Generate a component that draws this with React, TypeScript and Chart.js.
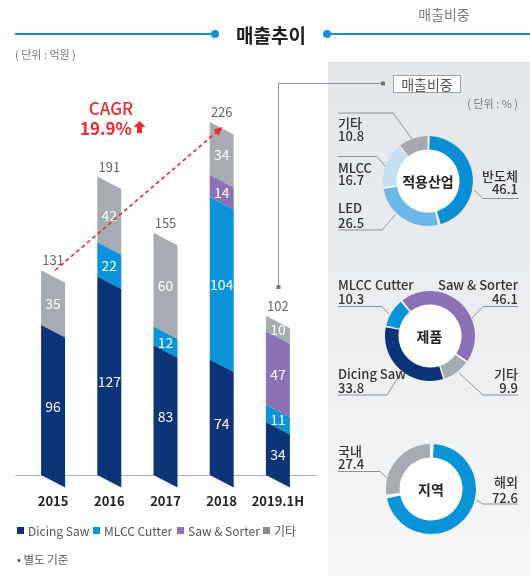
import React, { useEffect, useRef } from "react";
import { Chart, registerables } from "chart.js";

Chart.register(...registerables);

const FONT = "'Noto Sans CJK KR', 'Noto Sans', sans-serif";

// ---------- data ----------
const years = ["2015", "2016", "2017", "2018", "2019.1H"];
const seriesNames = ["Dicing Saw", "MLCC Cutter", "Saw & Sorter", "기타"];
const dicingSaw = [96, 127, 83, 74, 34];
const mlccCutter = [null, 22, 12, 104, 11];
const sawSorter = [null, null, null, 14, 47];
const etc = [35, 42, 60, 34, 10];
const totals = [131, 191, 155, 226, 102];
const cagrLabel = "CAGR";
const cagrValue = "19.9%";

const industryLabels = ["반도체", "LED", "MLCC", "기타"];
const industryValues = [46.1, 26.5, 16.7, 10.8];
const productLabels = ["Saw & Sorter", "기타", "Dicing Saw", "MLCC Cutter"];
const productValues = [46.1, 9.9, 33.8, 10.3];
const regionLabels = ["해외", "국내"];
const regionValues = [72.6, 27.4];

// ---------- styles ----------
const seriesColors = ["#0c3478", "#0a93d8", "#8b72b6", "#a6acb2"];
const legendColors = ["#0c3478", "#0a93d8", "#8b72b6", "#858a8f"];
const industryColors = ["#0a8fd6", "#6db8e8", "#c6dff3", "#a4aab0"];
const productColors = ["#8b72b6", "#a6acb2", "#0c3478", "#0a93d8"];
const regionColors = ["#0a93d8", "#a6acb2"];
const RED = "#ec2a2f";
const LINE = "#8d9297";

function T(props: {
  x: number; y: number; children: any; size?: number; color?: string;
  weight?: number | string; align?: "left" | "center" | "right";
}) {
  const { x, y, children, size = 13, color = "#333", weight = 400, align = "left" } = props;
  const tx = align === "left" ? "0" : align === "center" ? "-50%" : "-100%";
  return (
    <div
      style={{
        position: "absolute", left: x, top: y, transform: `translate(${tx}, -50%)`,
        fontFamily: FONT, fontSize: size, color, fontWeight: weight as any,
        lineHeight: 1, whiteSpace: "nowrap",
      }}
    >
      {children}
    </div>
  );
}

function BarChart() {
  const ref = useRef<HTMLCanvasElement>(null);
  useEffect(() => {
    const S = 12.5;
    const plugin = {
      id: "slantBars",
      beforeDatasetDraw(chart: any, args: any) {
        const ctx = chart.ctx;
        const ds = chart.data.datasets[args.index];
        ctx.save();
        ctx.fillStyle = ds.backgroundColor;
        args.meta.data.forEach((el: any, i: number) => {
          if (ds.data[i] == null) return;
          const { x, y, base, width } = el.getProps(["x", "y", "base", "width"], true);
          const xl = x - width / 2, xr = x + width / 2;
          ctx.beginPath();
          ctx.moveTo(xl, y);
          ctx.lineTo(xr, y + S);
          ctx.lineTo(xr, base + S);
          ctx.lineTo(xl, base);
          ctx.closePath();
          ctx.fill();
        });
        ctx.restore();
        return false;
      },
      afterDatasetsDraw(chart: any) {
        const ctx = chart.ctx;
        ctx.save();
        ctx.textAlign = "center";
        ctx.textBaseline = "middle";
        // segment labels
        chart.data.datasets.forEach((ds: any, di: number) => {
          const meta = chart.getDatasetMeta(di);
          meta.data.forEach((el: any, i: number) => {
            const v = ds.data[i];
            if (v == null) return;
            const { x, y, base } = el.getProps(["x", "y", "base"], true);
            ctx.font = `14px ${FONT}`;
            ctx.fillStyle = "#ffffff";
            ctx.fillText(String(v), x, (y + base) / 2 + S / 2);
          });
        });
        const xs = chart.scales.x, ys = chart.scales.y;
        // totals
        totals.forEach((t, i) => {
          ctx.font = `13px ${FONT}`;
          ctx.fillStyle = "#666";
          ctx.fillText(String(t), xs.getPixelForValue(i), ys.getPixelForValue(t) - 10);
        });
        // category labels (x axis)
        chart.data.labels.forEach((l: string, i: number) => {
          ctx.font = `bold 13px ${FONT}`;
          ctx.fillStyle = "#222";
          ctx.fillText(l, xs.getPixelForValue(i), chart.chartArea.bottom + 26);
        });
        // CAGR dashed arrow: from first bar top to max bar top
        const iMax = totals.indexOf(Math.max(...totals));
        const sx = xs.getPixelForValue(0) + 2, sy = ys.getPixelForValue(totals[0]);
        const ex = xs.getPixelForValue(iMax) + 1, ey = ys.getPixelForValue(totals[iMax]) + 5;
        const ang = Math.atan2(ey - sy, ex - sx);
        const L = 9;
        ctx.strokeStyle = RED;
        ctx.fillStyle = RED;
        ctx.lineWidth = 1.6;
        ctx.setLineDash([4, 3]);
        ctx.beginPath();
        ctx.moveTo(sx, sy);
        ctx.lineTo(ex - Math.cos(ang) * L, ey - Math.sin(ang) * L);
        ctx.stroke();
        ctx.setLineDash([]);
        ctx.beginPath();
        ctx.moveTo(ex, ey);
        ctx.lineTo(ex - Math.cos(ang) * L - Math.sin(ang) * 4, ey - Math.sin(ang) * L + Math.cos(ang) * 4);
        ctx.lineTo(ex - Math.cos(ang) * L + Math.sin(ang) * 4, ey - Math.sin(ang) * L - Math.cos(ang) * 4);
        ctx.closePath();
        ctx.fill();
        ctx.restore();
      },
    };
    const data = [dicingSaw, mlccCutter, sawSorter, etc];
    const chart = new Chart(ref.current as HTMLCanvasElement, {
      type: "bar",
      data: {
        labels: years,
        datasets: seriesNames.map((n, i) => ({
          label: n, data: data[i] as any, backgroundColor: seriesColors[i],
          barThickness: 24, clip: false as any,
        })),
      },
      options: {
        responsive: false,
        animation: false,
        layout: { padding: { left: 25, right: 14, top: 100, bottom: 101 } },
        plugins: { legend: { display: false }, tooltip: { enabled: false } },
        scales: {
          x: { stacked: true, display: false },
          y: { stacked: true, display: false, min: 0, max: 240 },
        },
      },
      plugins: [plugin],
    });
    return () => chart.destroy();
  }, []);
  return <canvas ref={ref} width={320} height={576} style={{ position: "absolute", left: 0, top: 0 }} />;
}

function Donut(props: {
  labels: string[]; values: number[]; colors: string[]; rotation: number;
  title: string; cx: number; cy: number;
}) {
  const { labels, values, colors, rotation, title, cx, cy } = props;
  const ref = useRef<HTMLCanvasElement>(null);
  useEffect(() => {
    const R = 44;
    const disc = {
      id: "disc",
      beforeDatasetsDraw(chart: any) {
        const el = chart.getDatasetMeta(0).data[0];
        if (!el) return;
        const ctx = chart.ctx;
        ctx.save();
        ctx.beginPath();
        ctx.arc(el.x, el.y, R, 0, Math.PI * 2);
        ctx.fillStyle = "#ffffff";
        ctx.fill();
        ctx.restore();
      },
    };
    const chart = new Chart(ref.current as HTMLCanvasElement, {
      type: "doughnut",
      data: {
        labels,
        datasets: [{ data: values, backgroundColor: colors, borderWidth: 0, spacing: 2 } as any],
      },
      options: {
        responsive: false,
        animation: false,
        rotation,
        radius: R,
        cutout: 34,
        plugins: { legend: { display: false }, tooltip: { enabled: false } },
      } as any,
      plugins: [disc],
    });
    return () => chart.destroy();
  }, []);
  return (
    <>
      <canvas ref={ref} width={100} height={100} style={{ position: "absolute", left: cx - 50, top: cy - 50 }} />
      <T x={cx} y={cy} size={14} weight={700} color="#222" align="center">{title}</T>
    </>
  );
}

export default function App() {
  useEffect(() => {
    document.body.style.margin = "0";
  }, []);
  const lbl = (x: number, y1: number, y2: number, name: string, val: number, align: "left" | "right") => (
    <>
      <T x={x} y={y1} size={13} weight={500} color="#333" align={align}>{name}</T>
      <T x={x} y={y2} size={13} weight={500} color="#333" align={align}>{val.toFixed(1)}</T>
    </>
  );
  return (
    <div style={{ position: "absolute", left: 0, top: 0, width: 530, height: 576, overflow: "hidden", background: "#fff" }}>
      {/* right panel background */}
      <div
        style={{
          position: "absolute", left: 328, top: 62, width: 202, height: 514,
          background: "linear-gradient(180deg, #e4e7ea 0%, #eceef0 55%, #f6f7f8 100%)",
        }}
      />
      {/* axis line */}
      <div style={{ position: "absolute", left: 15, top: 474.5, width: 302, height: 1, background: "#a9aeb3" }} />

      <svg width={530} height={576} style={{ position: "absolute", left: 0, top: 0 }}>
        {/* title lines */}
        <line x1={15} y1={34} x2={215} y2={34} stroke="#1a8fd8" strokeWidth={2} />
        <circle cx={215} cy={34} r={4} fill="#1a8fd8" />
        <circle cx={327} cy={34} r={4} fill="#1a8fd8" />
        <line x1={327} y1={34} x2={530} y2={34} stroke="#1a8fd8" strokeWidth={2} />
        {/* connector */}
        <polyline points="278.5,287 278.5,83.5 383,83.5" fill="none" stroke={LINE} strokeWidth={1} />
        <rect x={381} y={81.5} width={4} height={4} fill="#777" />
        <rect x={276.5} y={285} width={4} height={4} fill="#777" />
        {/* leader lines donut 1 */}
        <polyline points="338,113 393,113 412,139" fill="none" stroke={LINE} strokeWidth={1} />
        <polyline points="338,156.5 377,156.5 386,167" fill="none" stroke={LINE} strokeWidth={1} />
        <polyline points="338,230 382,230 395,215" fill="none" stroke={LINE} strokeWidth={1} />
        <polyline points="474,190 483,198.5 519,198.5" fill="none" stroke={LINE} strokeWidth={1} />
        {/* donut 2 */}
        <polyline points="338,306.5 382,306.5 389,314" fill="none" stroke={LINE} strokeWidth={1} />
        <polyline points="518,306.5 483,306.5 472,318" fill="none" stroke={LINE} strokeWidth={1} />
        <polyline points="338,395 387,395 402,371" fill="none" stroke={LINE} strokeWidth={1} />
        <polyline points="518,395 483,395 459,373" fill="none" stroke={LINE} strokeWidth={1} />
        {/* donut 3 */}
        <polyline points="338,471.5 380,471.5 387,478" fill="none" stroke={LINE} strokeWidth={1} />
        <polyline points="518,504 483,504 476,500" fill="none" stroke={LINE} strokeWidth={1} />
      </svg>

      <BarChart />

      <Donut labels={industryLabels} values={industryValues} colors={industryColors} rotation={0} title="적용산업" cx={428} cy={181} />
      <Donut labels={productLabels} values={productValues} colors={productColors} rotation={-40} title="제품" cx={429.5} cy={336} />
      <Donut labels={regionLabels} values={regionValues} colors={regionColors} rotation={0} title="지역" cx={431} cy={489} />

      {/* titles */}
      <T x={271} y={34} size={19} weight={700} color="#1e1e1e" align="center">매출추이</T>
      <T x={444} y={13.5} size={14} weight={400} color="#7a7a7a" align="center">매출비중</T>
      <T x={15} y={54} size={11} color="#777">( 단위 : 억원 )</T>
      <div
        style={{
          position: "absolute", left: 393, top: 75, width: 68, height: 18, background: "#fff",
          border: "1px solid #9a9fa4", boxSizing: "border-box", display: "flex",
          alignItems: "center", justifyContent: "center", fontFamily: FONT, fontSize: 14, color: "#555", lineHeight: 1,
        }}
      >
        매출비중
      </div>
      <T x={518} y={103} size={11} color="#777" align="right">( 단위 : % )</T>

      {/* CAGR */}
      <T x={111} y={107} size={17} weight={500} color={RED} align="center">{cagrLabel}</T>
      <div
        style={{
          position: "absolute", left: 80, top: 127, transform: "translateY(-50%)", display: "flex",
          alignItems: "center", fontFamily: FONT, fontSize: 17, fontWeight: 700, color: RED, lineHeight: 1,
        }}
      >
        <span>{cagrValue}</span>
        <svg width={13} height={13} viewBox="0 0 13 13" style={{ marginLeft: 1 }}>
          <polygon points="6.5,0.5 12.5,6.5 9,6.5 9,12.5 4,12.5 4,6.5 0.5,6.5" fill={RED} />
        </svg>
      </div>

      {/* donut labels */}
      {lbl(338, 121.5, 135, industryLabels[3], industryValues[3], "left")}
      {lbl(338, 167, 178.5, industryLabels[2], industryValues[2], "left")}
      {lbl(338, 207, 222, industryLabels[1], industryValues[1], "left")}
      {lbl(518, 175, 188, industryLabels[0], industryValues[0], "right")}

      {lbl(338, 284, 297.5, productLabels[3], productValues[3], "left")}
      {lbl(518, 284, 297.5, productLabels[0], productValues[0], "right")}
      {lbl(338, 373, 386.5, productLabels[2], productValues[2], "left")}
      {lbl(518, 373, 386.5, productLabels[1], productValues[1], "right")}

      {lbl(338, 450, 463, regionLabels[1], regionValues[1], "left")}
      {lbl(518, 481, 496.5, regionLabels[0], regionValues[0], "right")}

      {/* legend */}
      {seriesNames.map((n, i) => {
        const sq = [17, 93, 177, 263][i];
        return (
          <React.Fragment key={n}>
            <div style={{ position: "absolute", left: sq, top: 527, width: 7, height: 7, background: legendColors[i] }} />
            <T x={sq + 11} y={530.5} size={12} color="#555">{n}</T>
          </React.Fragment>
        );
      })}
      <T x={17} y={560} size={11.5} color="#555">• 별도 기준</T>
    </div>
  );
}
